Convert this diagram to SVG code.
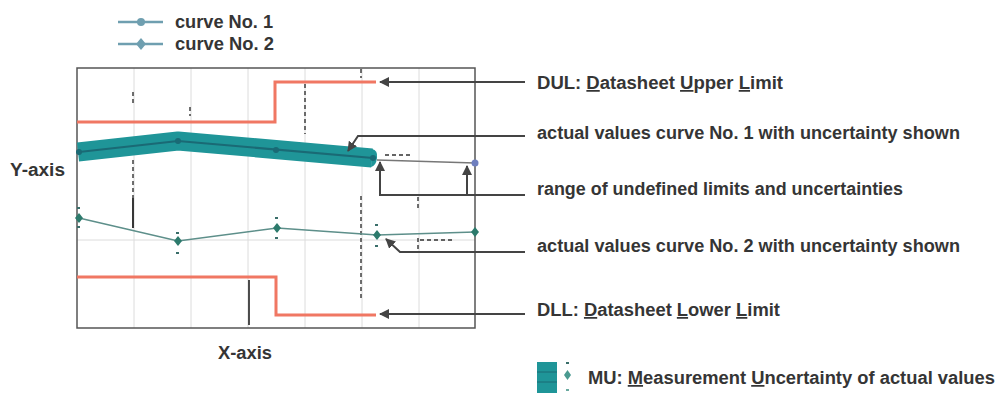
<svg xmlns="http://www.w3.org/2000/svg" width="1001" height="393" viewBox="0 0 1001 393">
<defs>
<style>
.t{font-family:"Liberation Sans",Arial,sans-serif;font-weight:bold;font-size:17.5px;fill:#353535}
.grid{stroke:#dcdcdc;stroke-width:1;fill:none}
.frame{stroke:#555;stroke-width:1.5;fill:none}
.lim{stroke:#f07763;stroke-width:3;fill:none;stroke-linejoin:miter}
.con{stroke:#444;stroke-width:2;fill:none}
.tick{stroke:#333;stroke-width:1.4;fill:none;stroke-dasharray:4 3}
.c2{stroke:#5d8f8a;stroke-width:1.6;fill:none}
.dm{fill:#2c7a6c}
.eb{fill:#3a6e6a}
.u{text-decoration:underline}
</style>
<marker id="ah" viewBox="0 0 10 10" refX="9" refY="5" markerWidth="5" markerHeight="5" orient="auto-start-reverse" markerUnits="strokeWidth">
<path d="M0,0 L10,5 L0,10 z" fill="#444"/>
</marker>
<path id="dia" d="M0,-5 L4,0 L0,5 L-4,0 z"/>
</defs>
<rect width="1001" height="393" fill="#fff"/>

<g id="legend">
<line x1="118" y1="22" x2="163" y2="22" stroke="#6f9fb0" stroke-width="2.5"/>
<circle cx="141" cy="22" r="4" fill="#6f9fb0"/>
<text class="t" x="175" y="28" textLength="98" lengthAdjust="spacingAndGlyphs">curve No. 1</text>
<line x1="118" y1="44" x2="163" y2="44" stroke="#6f9fb0" stroke-width="2.5"/>
<path d="M141,38 L146,44 L141,50 L136,44 z" fill="#6f9fb0"/>
<text class="t" x="175" y="50" textLength="99" lengthAdjust="spacingAndGlyphs">curve No. 2</text>
</g>

<g id="chart">
<g id="grid">
<line class="grid" x1="134" y1="68" x2="134" y2="328"/>
<line class="grid" x1="191" y1="68" x2="191" y2="328"/>
<line class="grid" x1="248" y1="68" x2="248" y2="328"/>
<line class="grid" x1="305" y1="68" x2="305" y2="328"/>
<line class="grid" x1="362" y1="68" x2="362" y2="328"/>
<line class="grid" x1="419" y1="68" x2="419" y2="328"/>
<line class="grid" x1="77" y1="240" x2="475" y2="240"/>
</g>
<g id="ticks">
<line class="tick" x1="133" y1="92" x2="133" y2="106"/>
<line class="tick" x1="133" y1="160" x2="133" y2="198"/>
<line x1="133" y1="198" x2="133" y2="228" stroke="#222" stroke-width="1.8"/>
<line class="tick" x1="190" y1="107" x2="190" y2="116"/>
<line class="tick" x1="305" y1="84" x2="305" y2="134"/>
<line class="tick" x1="361" y1="69" x2="361" y2="78"/>
<line class="tick" stroke-dasharray="2 3" x1="361" y1="196" x2="361" y2="300"/>
<line x1="249" y1="280" x2="249" y2="325" stroke="#222" stroke-width="1.6"/>
<line class="tick" x1="418" y1="197" x2="418" y2="210"/>
<line class="tick" x1="418" y1="238" x2="418" y2="250"/>
<line class="tick" stroke-dasharray="2 2" stroke-width="1" x1="385" y1="155" x2="410" y2="155"/>
<line class="tick" stroke-dasharray="2 2" stroke-width="1" x1="420" y1="240" x2="453" y2="240"/>
</g>
<rect class="frame" x="77" y="68" width="398" height="260"/>

<g id="DUL-line"><polyline class="lim" points="77,122 275,122 275,82 376,82"/></g>
<g id="DLL-line"><polyline class="lim" points="77,277 276,277 276,315 376,315"/></g>

<g id="curve1">
<polyline points="78,152 178,141 372,158" fill="none" stroke="#1f9598" stroke-width="19" stroke-linejoin="round" stroke-linecap="butt"/>
<path d="M372,149 Q378,150 377,158 Q376,166 371,167 z" fill="#1f9598"/>
<polyline points="79,152 178,141 373,158" fill="none" stroke="#1a6a75" stroke-width="2"/>
<circle cx="79" cy="152" r="3" fill="#1a6a75"/>
<circle cx="178" cy="141" r="3" fill="#1a6a75"/>
<circle cx="276" cy="150" r="3" fill="#1a6a75"/>
<circle cx="373" cy="158" r="3" fill="#1a6a75"/>
<polyline points="377,160 475,163" fill="none" stroke="#777" stroke-width="1.6"/>
<circle cx="475" cy="163" r="3.5" fill="#6f7fbf"/>
</g>

<g id="curve2">
<polyline class="c2" points="79,218 178,241 277,228 377,235 475,232"/>
<use href="#dia" x="79" y="218" class="dm"/>
<use href="#dia" x="178" y="241" class="dm"/>
<use href="#dia" x="277" y="228" class="dm"/>
<use href="#dia" x="377" y="235" class="dm"/>
<use href="#dia" x="475" y="232" class="dm"/>
<rect class="eb" x="77" y="207" width="3" height="2"/><rect class="eb" x="77" y="226" width="3" height="2"/>
<rect class="eb" x="176" y="232" width="3" height="2"/><rect class="eb" x="176" y="252" width="3" height="2"/>
<rect class="eb" x="275" y="217" width="3" height="2"/><rect class="eb" x="275" y="237" width="3" height="2"/>
<rect class="eb" x="375" y="224" width="3" height="2"/><rect class="eb" x="375" y="245" width="3" height="2"/>
</g>

<text class="t" x="10" y="176" textLength="55" lengthAdjust="spacingAndGlyphs">Y-axis</text>
<text class="t" x="218" y="359" textLength="54" lengthAdjust="spacingAndGlyphs">X-axis</text>
</g>

<g id="connectors">
<line class="con" x1="525" y1="82" x2="380" y2="82" marker-end="url(#ah)"/>
<polyline class="con" points="525,136 358,136 348,151" marker-end="url(#ah)"/>
<polyline class="con" points="525,195 380,195 380,162" marker-end="url(#ah)"/>
<polyline class="con" points="467,195 467,166" marker-end="url(#ah)"/>
<polyline class="con" points="525,252 400,252 386,239" marker-end="url(#ah)"/>
<line class="con" x1="525" y1="314" x2="380" y2="314" marker-end="url(#ah)"/>
</g>

<g id="label-DUL"><text class="t" x="537" y="89" textLength="246" lengthAdjust="spacingAndGlyphs">DUL: <tspan class="u">D</tspan>atasheet <tspan class="u">U</tspan>pper <tspan class="u">L</tspan>imit</text></g>
<g id="label-curve1"><text class="t" x="537" y="139" textLength="423" lengthAdjust="spacingAndGlyphs">actual values curve No. 1 with uncertainty shown</text></g>
<g id="label-range"><text class="t" x="537" y="195" textLength="366" lengthAdjust="spacingAndGlyphs">range of undefined limits and uncertainties</text></g>
<g id="label-curve2"><text class="t" x="537" y="252" textLength="423" lengthAdjust="spacingAndGlyphs">actual values curve No. 2 with uncertainty shown</text></g>
<g id="label-DLL"><text class="t" x="537" y="316" textLength="243" lengthAdjust="spacingAndGlyphs">DLL: <tspan class="u">D</tspan>atasheet <tspan class="u">L</tspan>ower <tspan class="u">L</tspan>imit</text></g>

<g id="legend-MU">
<rect x="537" y="362" width="20" height="31" fill="#1f9598"/>
<line x1="537" y1="372" x2="557" y2="372" stroke="#1a6a75" stroke-width="1"/>
<line x1="537" y1="382" x2="557" y2="382" stroke="#1a6a75" stroke-width="1"/>
<rect x="566" y="362" width="3" height="2" fill="#3a6e6a"/>
<path d="M567.5,370 L571,375 L567.5,380 L564,375 z" fill="#4a9a90"/>
<rect x="566" y="389" width="3" height="2" fill="#6aaaa0"/>
<text class="t" x="588" y="384" textLength="407" lengthAdjust="spacingAndGlyphs">MU: <tspan class="u">M</tspan>easurement <tspan class="u">U</tspan>ncertainty of actual values</text>
</g>
</svg>
